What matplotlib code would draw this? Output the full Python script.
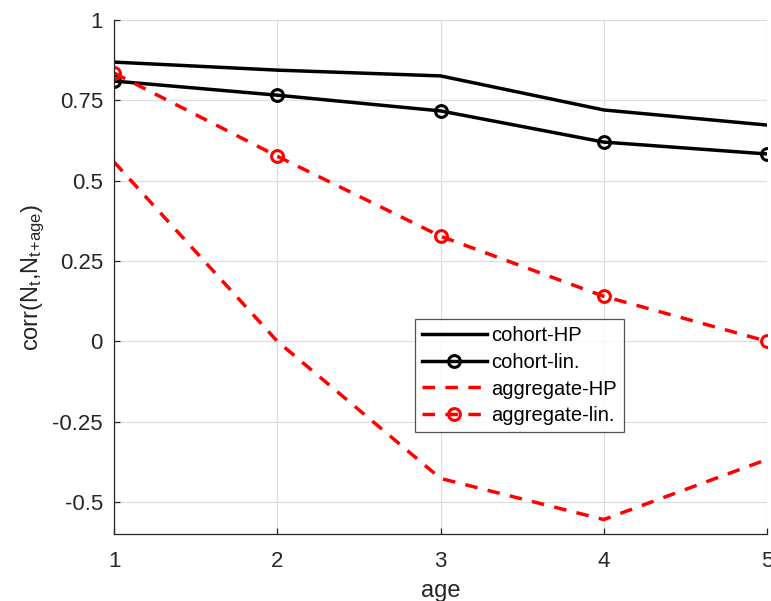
import matplotlib
matplotlib.use("Agg")
import matplotlib.pyplot as plt

plt.rcParams['font.family'] = ['Liberation Sans', 'DejaVu Sans']
plt.rcParams['mathtext.default'] = 'regular'

age = [1, 2, 3, 4, 5]
cohort_hp = [0.869, 0.844, 0.826, 0.720, 0.673]
cohort_lin = [0.810, 0.766, 0.717, 0.620, 0.583]
aggregate_hp = [0.558, 0.000, -0.427, -0.555, -0.368]
aggregate_lin = [0.835, 0.576, 0.327, 0.140, 0.000]

yticks = [-0.5, -0.25, 0, 0.25, 0.5, 0.75, 1]
ytick_labels = ['-0.5', '-0.25', '0', '0.25', '0.5', '0.75', '1']

fig = plt.figure(figsize=(7.71, 6.01), dpi=100)
ax = fig.add_axes([0.1479, 0.1115, 0.8469, 0.8552])

lw = 2.5
dash = (0, (3.6, 3.0))
ax.plot(age, cohort_hp, color='black', lw=lw, label='cohort-HP')
ax.plot(age, cohort_lin, color='black', lw=lw, marker='o', ms=8.5,
        mfc='none', mew=2.2, label='cohort-lin.')
ax.plot(age, aggregate_hp, color='red', lw=lw, ls=dash, label='aggregate-HP')
ax.plot(age, aggregate_lin, color='red', lw=lw, ls=dash, marker='o', ms=8.5,
        mfc='none', mew=2.2, label='aggregate-lin.')

ax.set_xlim(1, 5)
ax.set_ylim(-0.6, 1)
ax.set_xticks(age)
ax.set_yticks(yticks)
ax.set_yticklabels(ytick_labels)
ax.grid(True, color='#dedede', lw=0.9)
ax.set_axisbelow(True)
for s in ['top', 'right']:
    ax.spines[s].set_visible(False)
for s in ['left', 'bottom']:
    ax.spines[s].set_color('#262626')
    ax.spines[s].set_linewidth(0.9)
ax.tick_params(axis='both', labelsize=16, colors='#262626', direction='in',
               length=4.5, width=0.9)
ax.tick_params(axis='x', pad=12)
ax.tick_params(axis='y', pad=8)
ax.set_xlabel('age', fontsize=17, color='#262626', labelpad=6)
ax.set_ylabel(r'corr(N$_t$,N$_{t\!+\!age}$)', fontsize=17, color='#262626',
              labelpad=4)

leg = ax.legend(loc='upper left', bbox_to_anchor=(0.461, 0.418), fontsize=14.5,
                frameon=True, fancybox=False, edgecolor='#262626',
                handlelength=3.2, handletextpad=0.25, borderpad=0.35,
                labelspacing=0.38, borderaxespad=0)
leg.get_frame().set_linewidth(0.9)

fig.savefig('out.png', dpi=100)
